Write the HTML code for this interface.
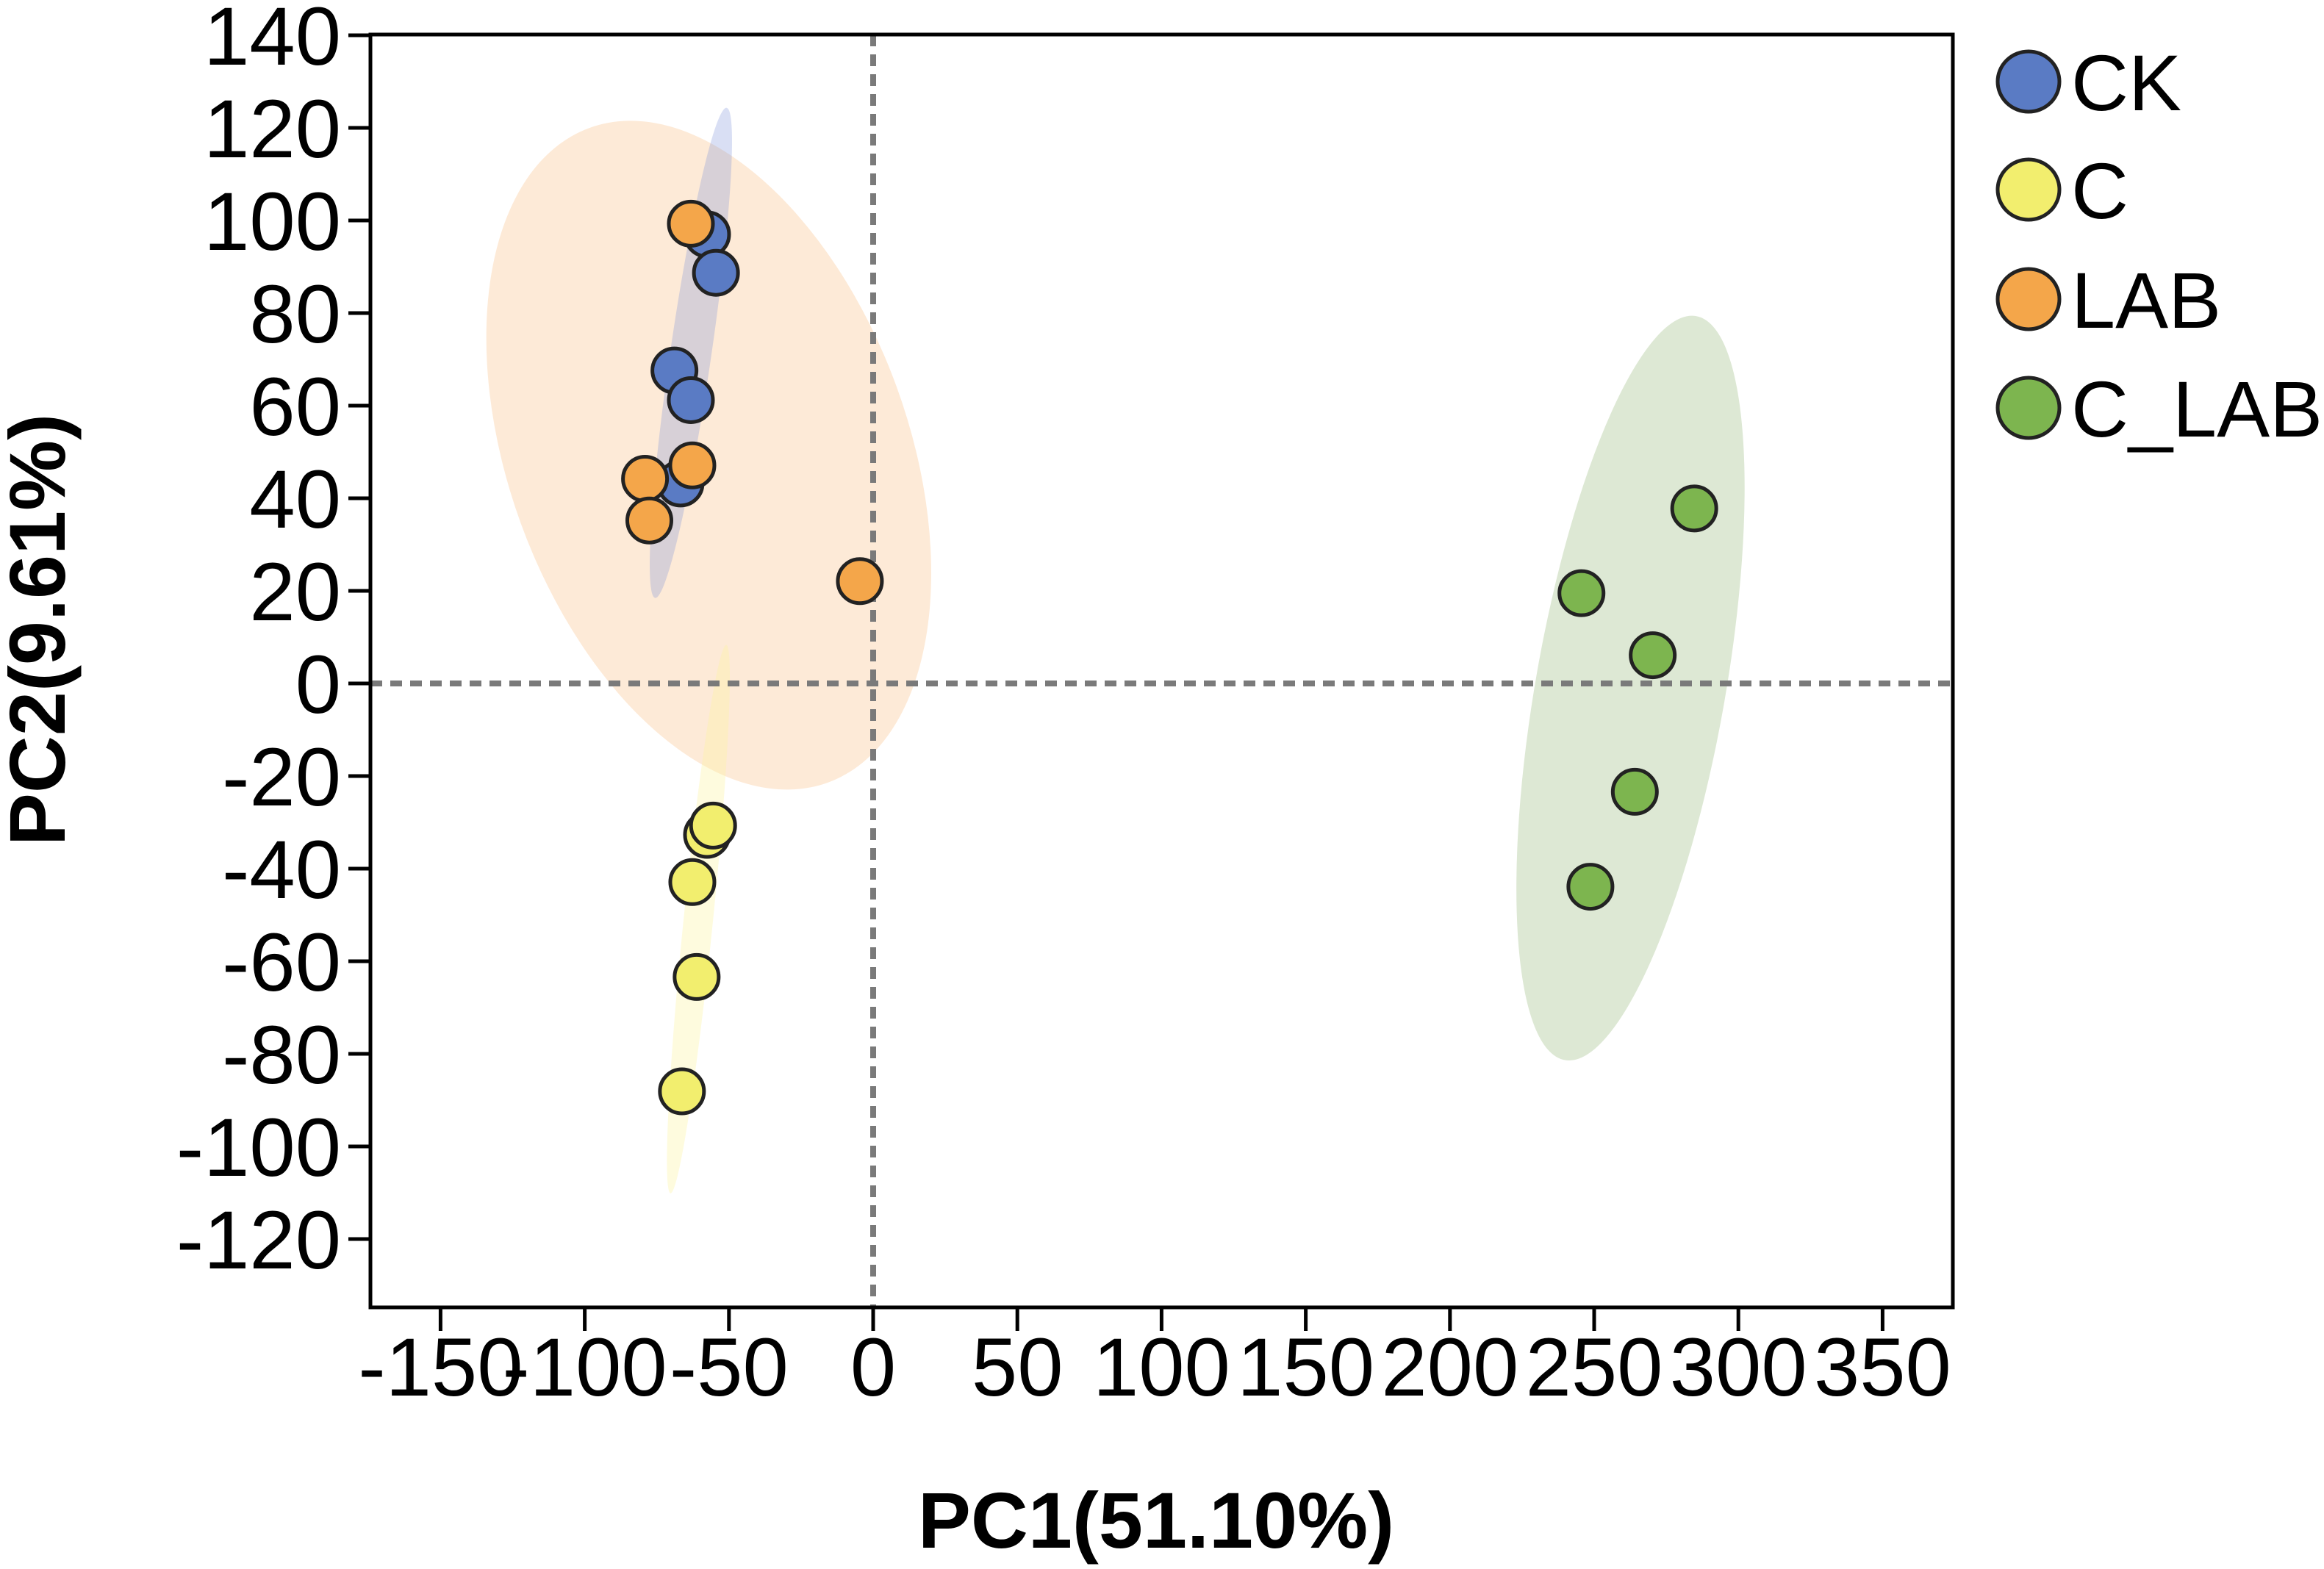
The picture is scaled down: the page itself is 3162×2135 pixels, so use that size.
<!DOCTYPE html>
<html><head><meta charset="utf-8"><style>
html,body{margin:0;padding:0;background:#fff;}
svg{display:block;font-family:"Liberation Sans",Arial,sans-serif;}
</style></head><body>
<svg id="chart" width="3162" height="2135" viewBox="0 0 3162 2135" xmlns="http://www.w3.org/2000/svg">
<g id="ellipses"></g>
<g id="guides"></g>
<g id="points"></g>
<g id="axes"></g>
<g id="legend"></g>
<text x="1573" y="2106" text-anchor="middle" font-weight="bold" font-size="108">PC1(51.10%)</text>
<text transform="translate(88,857) rotate(-90)" text-anchor="middle" font-weight="bold" font-size="108">PC2(9.61%)</text>
</svg>
<script>
const groups = ["CK","C","LAB","C_LAB"];
const colors = ["#5a7bc4","#f2ee6e","#f4a64a","#7db54f"];
const ckX = [-57.6,-54.5,-68.9,-63.2,-66.8];
const ckY = [97,88.7,67.6,61.2,43.2];
const cX = [-57.6,-55.5,-62.7,-61.2,-66.3];
const cY = [-32.7,-30.7,-42.9,-63.4,-88.1];
const labX = [-63.2,-79.1,-77.6,-62.7,-4.6];
const labY = [99.3,44.2,35.2,47.1,22.1];
const clabX = [284.7,245.6,270.3,264.1,248.7];
const clabY = [37.8,19.5,6.1,-23.4,-43.9];
const ellipseCX = [-63.2,-60.6,-57,262.6];
const ellipseCY = [71.4,-50.9,49.3,-1];
const xTicks = [-150,-100,-50,0,50,100,150,200,250,300,350];
const yTicks = [140,120,100,80,60,40,20,0,-20,-40,-60,-80,-100,-120];

const NS="http://www.w3.org/2000/svg";
const L=504,R=2657,T=47,B=1779;
const xScale=v=>1188+v*3.924;
const yScale=v=>930-v*6.3;
function mk(tag,attrs,parent){const e=document.createElementNS(NS,tag);for(const k in attrs)e.setAttribute(k,attrs[k]);parent.appendChild(e);return e;}

const eg=document.getElementById('ellipses');
const eFill=["rgba(120,140,215,0.28)","rgba(252,244,160,0.35)","rgba(250,190,130,0.32)","rgba(150,185,120,0.32)"];
const eA=[337,375,474,514], eB=[28,20,272,129], eRot=[8.3,5.8,-20,10];
const eOrder=[2,0,1,3];
eOrder.forEach(i=>{
  const cx=xScale(ellipseCX[i]), cy=yScale(ellipseCY[i]);
  const el=mk('ellipse',{cx:cx,cy:cy,rx:eB[i],ry:eA[i],fill:eFill[i],transform:`rotate(${eRot[i]} ${cx} ${cy})`},eg);
  
  
});

const gg=document.getElementById('guides');
const hl=mk('line',{x1:L,x2:R,y1:yScale(0),y2:yScale(0),stroke:"#7a7a7a","stroke-width":8,"stroke-dasharray":"16 11"},gg);


const vl=mk('line',{x1:xScale(0),x2:xScale(0),y1:T,y2:B,stroke:"#7a7a7a","stroke-width":8,"stroke-dasharray":"16 11"},gg);



const pg=document.getElementById('points');
const series=[[ckX,ckY,0],[labX,labY,2],[cX,cY,1],[clabX,clabY,3]];
series.forEach(([xs,ys,gi])=>{
  xs.forEach((xv,j)=>{
    const c=mk('circle',{cx:xScale(xv),cy:yScale(ys[j]),r:30,fill:colors[gi],stroke:"#222","stroke-width":5},pg);
    
    
  });
});

const ag=document.getElementById('axes');
const box=mk('rect',{x:L,y:T,width:R-L,height:B-T,fill:"none",stroke:"#000","stroke-width":5},ag);


yTicks.forEach(v=>{
  const y=yScale(v);
  const t=mk('line',{x1:L-30,x2:L,y1:y,y2:y,stroke:"#000","stroke-width":5},ag);
  
  
  const tx=mk('text',{x:L-40,y:y+40,"text-anchor":"end","font-size":112,"textLength":"","lengthAdjust":"spacingAndGlyphs"},ag);
  tx.removeAttribute('textLength');
  tx.textContent=v;
  
  
});
xTicks.forEach(v=>{
  const x=xScale(v);
  const t=mk('line',{x1:x,x2:x,y1:B,y2:B+32,stroke:"#000","stroke-width":5},ag);
  
  
  const tx=mk('text',{x:x,y:B+120,"text-anchor":"middle","font-size":112},ag);
  tx.textContent=v;
  
  
});

const lg=document.getElementById('legend');
const legY=[111,258,407,555];
groups.forEach((g,i)=>{
  const c=mk('ellipse',{cx:2760,cy:legY[i],rx:42,ry:41,fill:colors[i],stroke:"#222","stroke-width":5},lg);
  
  
  const t=mk('text',{x:2818,y:legY[i]+39,"font-size":108},lg);
  t.textContent=g;
  
  
});
</script>
</body></html>
